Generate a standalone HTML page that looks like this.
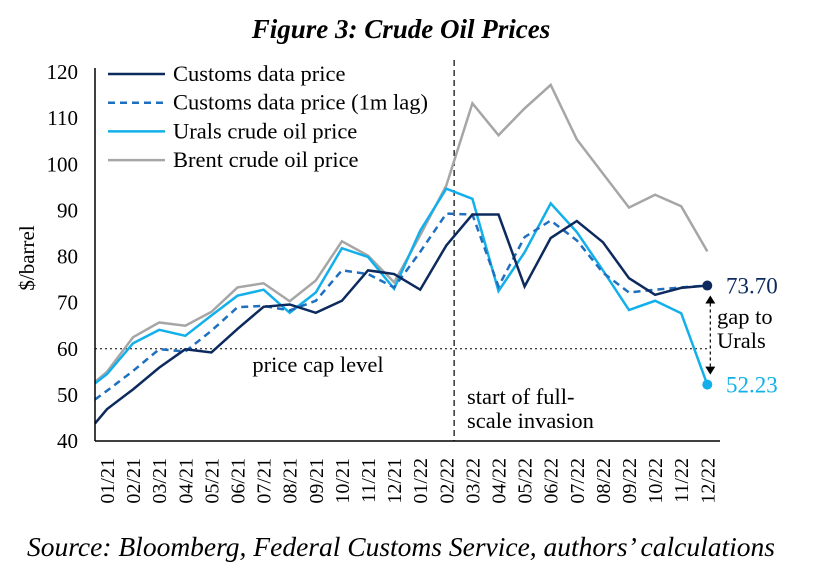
<!DOCTYPE html>
<html><head><meta charset="utf-8"><style>
body{margin:0;background:#fff;}
svg text{font-family:"Liberation Serif",serif;}
</style></head><body>
<svg id="c" width="831" height="577" xmlns="http://www.w3.org/2000/svg">
<text x="401" y="38" text-anchor="middle" font-size="27" font-weight="bold" font-style="italic">Figure 3: Crude Oil Prices</text>
<text x="401" y="556" text-anchor="middle" font-size="27.5" font-style="italic">Source: Bloomberg, Federal Customs Service, authors’ calculations</text>
<text transform="translate(34,258) rotate(-90)" text-anchor="middle" font-size="21">$/barrel</text>
<g id="plot"></g>
</svg>
<script>
const categories=["","01/21","02/21","03/21","04/21","05/21","06/21","07/21","08/21","09/21","10/21","11/21","12/21","01/22","02/22","03/22","04/22","05/22","06/22","07/22","08/22","09/22","10/22","11/22","12/22"];
const customs=[43.8,46.9,51.2,55.9,59.9,59.2,64.3,69.1,69.6,67.8,70.4,77.0,76.2,72.8,82.4,89.1,89.1,73.5,84.0,87.7,83.1,75.3,71.7,73.2,73.7];
const customsLag=[49.0,50.9,55.2,59.9,59.4,63.9,69.0,69.3,68.3,70.4,77.0,76.2,73.3,81.0,89.3,89.1,73.5,84.2,87.8,83.5,76.5,72.2,72.8,73.3,73.7];
const urals=[52.5,54.5,61.2,64.1,62.8,67.2,71.5,72.8,67.8,72.2,81.8,79.9,73.0,85.6,94.7,92.5,72.5,80.9,91.5,85.3,77.0,68.4,70.4,67.7,52.23];
const brent=[52.8,55.0,62.5,65.7,65.0,68.0,73.3,74.2,70.3,74.8,83.3,80.2,74.4,84.6,95.4,113.2,106.3,112.1,117.2,105.4,98.0,90.6,93.4,90.9,81.1];
const yTicks=[40,50,60,70,80,90,100,110,120];
const priceCap=60;
const invasionIndex=14.3;
const endLabels=["73.70","52.23"];

const NS="http://www.w3.org/2000/svg";
const g=document.getElementById('plot');
const X0=95,STEP=26.1,Y0=441,YTOP=72;
const x=i=>X0+(i===0?0:12+(i-1)*STEP);
const xf=f=>X0+12+(f-1)*STEP;
const y=v=>Y0-(v-40)*(Y0-YTOP)/80;
function mk(t,a){const e=document.createElementNS(NS,t);for(const k in a)e.setAttribute(k,a[k]);g.appendChild(e);return e;}

yTicks.forEach(v=>{const t=mk('text',{x:78,y:y(v)+7,'text-anchor':'end','font-size':21});t.textContent=v;

});
categories.forEach((c,i)=>{if(!c)return;const t=mk('text',{transform:`translate(${x(i)+7},${458}) rotate(-90)`,'text-anchor':'end','font-size':20});t.textContent=c;

});

const cap=mk('line',{x1:X0,x2:708,y1:y(priceCap),y2:y(priceCap),stroke:'#000','stroke-width':1,'stroke-dasharray':'2,3'});


const capT=mk('text',{x:318,y:372,'text-anchor':'middle','font-size':22.5});capT.textContent='price cap level';


const inv=mk('line',{x1:xf(invasionIndex),x2:xf(invasionIndex),y1:60,y2:Y0,stroke:'#000','stroke-width':1.2,'stroke-dasharray':'6,4'});


const i1=mk('text',{x:467,y:404,'font-size':22.5});i1.textContent='start of full-';


const i2=mk('text',{x:467,y:428,'font-size':22.5});i2.textContent='scale invasion';



const series=[
 {d:brent,c:'#a6a6a6',w:2.5,da:'',n:'brent-line'},
 {d:urals,c:'#12b0ea',w:2.5,da:'',n:'urals-line'},
 {d:customsLag,c:'#1f6fbf',w:2.5,da:'7,5',n:'customs-lag-line'},
 {d:customs,c:'#0c2a5e',w:2.5,da:'',n:'customs-line'}];
series.forEach(s=>{const p=mk('polyline',{points:s.d.map((v,i)=>x(i)+','+y(v)).join(' '),fill:'none',stroke:s.c,'stroke-width':s.w,'stroke-dasharray':s.da,'stroke-linejoin':'miter'});

});

const last=categories.length-1;
const d1=mk('circle',{cx:x(last),cy:y(customs[last]),r:5,fill:'#0c2a5e'});


const d2=mk('circle',{cx:x(last),cy:y(urals[last]),r:5,fill:'#12b0ea'});


const l1=mk('text',{x:726,y:y(customs[last])+8,'font-size':23},);l1.textContent=endLabels[0];
l1.setAttribute('fill','#0c2a5e');


const l2=mk('text',{x:726,y:y(urals[last])+8,'font-size':23});l2.textContent=endLabels[1];
l2.setAttribute('fill','#12b0ea');


const ax=x(last)+3;
const ar=mk('line',{x1:ax,x2:ax,y1:y(customs[last])+18,y2:y(urals[last])-18,stroke:'#000','stroke-width':1.2,'stroke-dasharray':'3,3'});


const h1=mk('polygon',{points:`${ax-5},${y(customs[last])+18} ${ax+5},${y(customs[last])+18} ${ax},${y(customs[last])+10}`,fill:'#000'});


const h2=mk('polygon',{points:`${ax-5},${y(urals[last])-18} ${ax+5},${y(urals[last])-18} ${ax},${y(urals[last])-10}`,fill:'#000'});


const g1=mk('text',{x:717,y:324,'font-size':22.5});g1.textContent='gap to';


const g2=mk('text',{x:717,y:348,'font-size':22.5});g2.textContent='Urals';



const axY=mk('line',{x1:X0,x2:X0,y1:YTOP-4,y2:Y0,stroke:'#000','stroke-width':1.5});


const axX=mk('line',{x1:X0,x2:720,y1:Y0,y2:Y0,stroke:'#000','stroke-width':1.5});



const legend=[["Customs data price",'#0c2a5e',''],["Customs data price (1m lag)",'#1f6fbf','7,5'],["Urals crude oil price",'#12b0ea',''],["Brent crude oil price",'#a6a6a6','']];
legend.forEach((l,i)=>{const yy=74+i*28.7;
const ln=mk('line',{x1:108,x2:165,y1:yy,y2:yy,stroke:l[1],'stroke-width':2.5,'stroke-dasharray':l[2]});


const t=mk('text',{x:173,y:yy+7,'font-size':22.5});t.textContent=l[0];

});
</script>
</body></html>
